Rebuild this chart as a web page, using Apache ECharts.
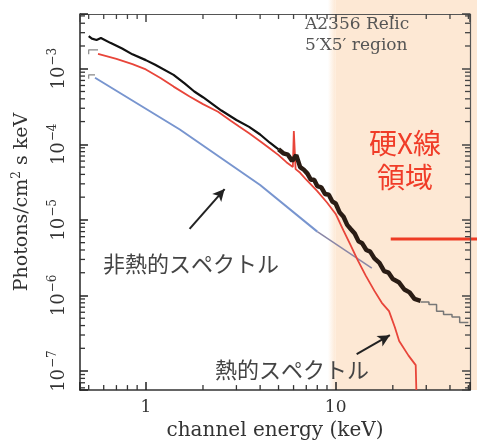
<!DOCTYPE html>
<html>
<head>
<meta charset="utf-8">
<script src="https://cdn.jsdelivr.net/npm/echarts@6/dist/echarts.min.js"></script>
<style>html,body{margin:0;padding:0;background:#fff}#c{width:477px;height:446px}</style>
</head>
<body>
<div id="c"></div>
<script>
// ---- axis ranges ----
const xMin = 0.45, xMax = 51;
const yMin = 5.6e-8, yMax = 5.3e-3;

// ---- observed data (black) ----
const obsE = [0.50, 0.52, 0.55, 0.58, 0.65, 0.75, 0.85, 1.0, 1.12, 1.4, 1.6, 1.8, 2.0, 2.5, 3.0, 3.5, 4.0, 4.5, 5.0];
const obsF = [2.7e-3, 2.5e-3, 2.4e-3, 2.55e-3, 2.2e-3, 1.85e-3, 1.55e-3, 1.3e-3, 1.13e-3, 8.3e-4, 6.4e-4, 5.0e-4, 4.2e-4, 2.8e-4, 2.1e-4, 1.7e-4, 1.35e-4, 1.05e-4, 8.6e-5];
// noisy high-energy part of the observed data
const noisyE = [5.0, 5.3, 5.6, 5.9, 6.2, 6.5, 6.8, 7.1, 7.4, 7.7, 8.0, 8.4, 8.8, 9.2, 9.6, 10, 10.5, 11, 11.5, 12, 12.6, 13.2, 13.8, 14.5, 15.2, 16, 17, 18, 19, 20, 21.5, 23, 24.5, 26, 28];
const noisyF = [8.6e-5, 7.6e-5, 7.3e-5, 6.0e-5, 7.2e-5, 5.0e-5, 4.6e-5, 4.1e-5, 3.4e-5, 3.4e-5, 2.8e-5, 2.7e-5, 2.2e-5, 2.15e-5, 1.75e-5, 1.65e-5, 1.25e-5, 1.1e-5, 8.6e-6, 7.6e-6, 6.6e-6, 5.2e-6, 4.9e-6, 4.0e-6, 3.8e-6, 3.1e-6, 2.7e-6, 2.1e-6, 2.0e-6, 1.65e-6, 1.5e-6, 1.2e-6, 1.1e-6, 9.0e-7, 8.5e-7];
// gray binned data at the highest energies
const tailE = [28, 31, 34, 37, 41, 45, 50];
const tailF = [8.2e-7, 7.6e-7, 6.2e-7, 5.6e-7, 5.2e-7, 4.4e-7, 4.4e-7];

// ---- thermal model (red) ----
const thE = [0.56, 0.7, 0.85, 1.0, 1.2, 1.4, 1.7, 2.0, 2.4, 2.8, 3.1, 3.5, 4.0, 4.5, 5.0, 5.5, 5.95, 6.02, 6.08, 6.15, 6.5, 7.0, 8.0, 9.0, 10, 11, 12, 13, 14.4, 16, 17.5, 19.1, 20.5, 21.6, 24.2, 26.4, 26.6];
const thF = [1.57e-3, 1.35e-3, 1.15e-3, 9.8e-4, 7.5e-4, 5.8e-4, 4.3e-4, 3.4e-4, 2.7e-4, 2.05e-4, 1.72e-4, 1.4e-4, 1.1e-4, 8.8e-5, 7.2e-5, 5.8e-5, 5.0e-5, 1.5e-4, 1.5e-4, 4.7e-5, 4.2e-5, 3.4e-5, 2.4e-5, 1.7e-5, 1.2e-5, 7.2e-6, 4.6e-6, 3.0e-6, 1.83e-6, 1.15e-6, 8.0e-7, 6.2e-7, 3.8e-7, 2.5e-7, 1.6e-7, 1.2e-7, 5.6e-8];

// ---- non-thermal power law (blue) ----
const ntE = [0.54, 1.51, 4.0, 8.0];
const ntF = [7.6e-4, 1.57e-4, 2.9e-5, 7.0e-6];
// continuation (gray)
const ntContE = [8.0, 15.5];
const ntContF = [7.0e-6, 2.3e-6];

// ---- model stubs at the low-energy end (gray) ----
const stubE = [0.5, 0.5, 0.56, null, 0.5, 0.5, 0.54];
const stubF = [1.55e-3, 1.78e-3, 1.78e-3, null, 7.4e-4, 8.3e-4, 8.3e-4];

// ---- annotations (data coordinates) ----
const arrow1 = [[1.70, 7.6e-6], [2.60, 2.56e-5]];
const arrow2 = [[12.9, 1.67e-7], [19.3, 2.98e-7]];
const hardBandStart = 10;          // keV, start of hard X-ray band
const redLineStart = [19.5, 5.6e-6];

// ---- tick values ----
const xMinor = [0.5, 0.6, 0.7, 0.8, 0.9, 2, 3, 4, 5, 6, 7, 8, 9, 20, 30, 40, 50];
const yMinor = [];
for (let e = -8; e <= -3; e++) for (let k = 2; k <= 9; k++) { const v = k * Math.pow(10, e); if (v > yMin && v < yMax) yMinor.push(v); }

const pair = (a, b) => a.map((v, i) => v === null ? [null, null] : [v, b[i]]);

const serif = 'DejaVu Serif';
const peach = '#fde8d4';

function isPow10(v) { const e = Math.log10(v); return Math.abs(e - Math.round(e)) < 1e-6; }

function tickStyle(c) { return { show: true, inside: true, length: 8, lineStyle: { color: c, width: 1.5 } }; }

const chart = echarts.init(document.getElementById('c'));
chart.setOption({
  animation: false,
  backgroundColor: '#fff',
  grid: { left: 80, right: 7, top: 14, bottom: 54 },
  xAxis: [{
    type: 'log', logBase: 10, min: xMin, max: xMax, position: 'bottom',
    axisLine: { show: true, lineStyle: { color: '#333', width: 1.6 } },
    axisTick: tickStyle('#222'),
    splitLine: { show: false },
    axisLabel: { margin: 9, fontFamily: serif, fontSize: 17, color: '#333',
      formatter: v => isPow10(v) ? String(Math.round(v)) : '' },
    name: 'channel energy (keV)', nameLocation: 'middle', nameGap: 29,
    nameTextStyle: { fontFamily: serif, fontSize: 20, color: '#333' }
  }, {
    type: 'log', logBase: 10, min: xMin, max: xMax, position: 'top',
    axisLine: { show: true, lineStyle: { color: '#555', width: 1.2 } },
    axisTick: tickStyle('#444'),
    axisLabel: { show: false }, splitLine: { show: false }
  }],
  yAxis: [{
    type: 'log', logBase: 10, min: yMin, max: yMax, position: 'left',
    axisLine: { show: true, lineStyle: { color: '#333', width: 1.6 } },
    axisTick: tickStyle('#222'),
    splitLine: { show: false },
    axisLabel: { rotate: 90, margin: 12, color: '#333',
      formatter: v => { if (!isPow10(v)) return ''; const r = Math.round(Math.log10(v)); return '{b|10}{s|−' + Math.abs(r) + '}'; },
      rich: { b: { fontFamily: serif, fontSize: 18, color: '#333', verticalAlign: 'bottom' },
              s: { fontFamily: serif, fontSize: 12, color: '#333', verticalAlign: 'bottom', padding: [0, 0, 9, 1] } } },
    name: '{a|Photons/cm}{s|2}{a| s keV}', nameLocation: 'middle', nameGap: 48,
    nameTextStyle: { rich: { a: { fontFamily: serif, fontSize: 19, color: '#333', verticalAlign: 'bottom' },
                             s: { fontFamily: serif, fontSize: 12, color: '#333', verticalAlign: 'bottom', padding: [0, 0, 9, 0] } } }
  }, {
    type: 'log', logBase: 10, min: yMin, max: yMax, position: 'right',
    axisLine: { show: true, lineStyle: { color: '#555', width: 1.2 } },
    axisTick: tickStyle('#444'),
    axisLabel: { show: false }, splitLine: { show: false }
  }],
  series: [
    { // hard X-ray band shading + red marker line
      type: 'custom', z: -1, clip: false, silent: true, data: [[hardBandStart, 1e-5]],
      renderItem: (params, api) => {
        const p10 = api.coord([hardBandStart, yMin]);
        const p9 = api.coord([hardBandStart * 0.91, yMin]);
        const w = api.getWidth();
        const r = api.coord(redLineStart);
        return { type: 'group', children: [
          { type: 'rect', shape: { x: p10[0], y: 0, width: w - p10[0], height: p10[1] }, style: { fill: peach } },
          { type: 'rect', shape: { x: p9[0], y: 0, width: p10[0] - p9[0], height: p10[1] },
            style: { fill: new echarts.graphic.LinearGradient(0, 0, 1, 0, [{ offset: 0, color: 'rgba(253,232,212,0)' }, { offset: 1, color: peach }]) } },
          { type: 'line', shape: { x1: r[0], y1: r[1], x2: w, y2: r[1] }, style: { stroke: '#ee3b24', lineWidth: 3 } }
        ] };
      }
    },
    { // minor ticks on all four sides
      type: 'custom', z: 5, clip: false, silent: true, data: [[1, 1e-5]],
      renderItem: (params, api) => {
        const ch = [];
        xMinor.forEach(v => {
          const b = api.coord([v, yMin]), t = api.coord([v, yMax]);
          ch.push({ type: 'line', shape: { x1: b[0], y1: b[1], x2: b[0], y2: b[1] - 5 }, style: { stroke: '#333', lineWidth: 1.3 } });
          ch.push({ type: 'line', shape: { x1: t[0], y1: t[1], x2: t[0], y2: t[1] + 5 }, style: { stroke: '#444', lineWidth: 1.3 } });
        });
        yMinor.forEach(v => {
          const l = api.coord([xMin, v]), r = api.coord([xMax, v]);
          ch.push({ type: 'line', shape: { x1: l[0], y1: l[1], x2: l[0] + 5, y2: l[1] }, style: { stroke: '#333', lineWidth: 1.3 } });
          ch.push({ type: 'line', shape: { x1: r[0], y1: r[1], x2: r[0] - 5, y2: r[1] }, style: { stroke: '#444', lineWidth: 1.3 } });
        });
        return { type: 'group', children: ch };
      }
    },
    { name: 'nonthermal', type: 'line', data: pair(ntE, ntF), symbol: 'none', z: 3,
      lineStyle: { color: '#7895cf', width: 2 } },
    { name: 'nonthermal-cont', type: 'line', data: pair(ntContE, ntContF), symbol: 'none', z: 3,
      lineStyle: { color: '#8a86a6', width: 1.5 } },
    { name: 'stubs', type: 'line', data: pair(stubE, stubF), symbol: 'none', connectNulls: false, z: 3,
      lineStyle: { color: '#888', width: 1.2 } },
    { name: 'thermal', type: 'line', data: pair(thE, thF), symbol: 'none', z: 4,
      lineStyle: { color: '#e8453a', width: 1.8 } },
    { name: 'observed', type: 'line', data: pair(obsE, obsF), symbol: 'none', z: 6,
      lineStyle: { color: '#111', width: 2.2 } },
    { name: 'observed-noisy', type: 'line', data: pair(noisyE, noisyF), symbol: 'none', z: 6,
      lineStyle: { color: '#2a1c14', width: 4.5 } },
    { name: 'tail', type: 'line', step: 'end', data: pair(tailE, tailF), symbol: 'none', z: 6,
      lineStyle: { color: '#777', width: 1.5 },
      markLine: { silent: true, symbol: ['none', 'arrow'], symbolSize: [9, 12],
        lineStyle: { color: '#222', width: 2, type: 'solid' }, label: { show: false },
        data: [
          [{ coord: arrow1[0] }, { coord: arrow1[1] }],
          [{ coord: arrow2[0] }, { coord: arrow2[1] }]
        ] } }
  ],
  graphic: [
    { type: 'text', left: 305, top: 16, z: 10, style: { text: 'A2356 Relic', font: '17px "DejaVu Serif"', fill: '#555' } },
    { type: 'text', left: 305, top: 37, z: 10, style: { text: '5′X5′ region', font: '17px "DejaVu Serif"', fill: '#555' } },
    { type: 'text', x: 405, y: 143, z: 10, style: { text: '硬X線', font: '28px "Noto Sans CJK JP"', fill: '#f03c28', align: 'center', verticalAlign: 'middle' } },
    { type: 'text', x: 405, y: 177, z: 10, style: { text: '領域', font: '28px "Noto Sans CJK JP"', fill: '#f03c28', align: 'center', verticalAlign: 'middle' } },
    { type: 'text', x: 103, y: 264, z: 10, style: { text: '非熱的スペクトル', font: '22px "Noto Sans CJK JP"', fill: '#444', verticalAlign: 'middle' } },
    { type: 'text', x: 215, y: 370, z: 10, style: { text: '熱的スペクトル', font: '22px "Noto Sans CJK JP"', fill: '#444', verticalAlign: 'middle' } }
  ]
});
</script>
</body>
</html>
